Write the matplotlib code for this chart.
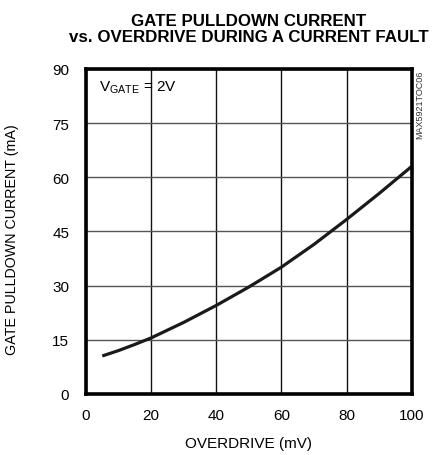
import numpy as np
import matplotlib.pyplot as plt
from matplotlib import font_manager as fm

# datos
overdrive = [5, 10, 15, 20, 30, 40, 50, 60, 70, 80, 90, 100]
corriente = [10.5, 12.0, 13.7, 15.5, 19.8, 24.5, 29.6, 35.1, 41.4, 48.3, 55.5, 63.0]

x_ticks = [0, 20, 40, 60, 80, 100]
y_ticks = [0, 15, 30, 45, 60, 75, 90]

# buscar una fuente estrecha si existe
nombres = {f.name for f in fm.fontManager.ttflist}
if 'Liberation Sans Narrow' in nombres:
    fuente, tam, tam_y, tam_tit = 'Liberation Sans Narrow', 12.5, 12.5, 14
else:
    fuente, tam, tam_y, tam_tit = 'Liberation Sans', 11, 10.3, 12.2

plt.rcParams['font.family'] = [fuente, 'DejaVu Sans']
plt.rcParams['mathtext.fontset'] = 'custom'
plt.rcParams['mathtext.rm'] = fuente
plt.rcParams['mathtext.it'] = fuente

fig = plt.figure(figsize=(4.32, 4.56), dpi=100)
ax = fig.add_axes([0.199, 0.134, 0.754, 0.7127])

ax.plot(overdrive, corriente, color='#1a1a1a', linewidth=2.3, solid_capstyle='butt')

ax.set_xlim(0, 100)
ax.set_ylim(0, 90)
ax.set_xticks(x_ticks)
ax.set_yticks(y_ticks)
ax.tick_params(length=0, labelsize=tam)
ax.tick_params(axis='x', pad=10)
ax.tick_params(axis='y', pad=12)
ax.xaxis.grid(True, color='#111111', linewidth=1.0)
ax.yaxis.grid(True, color='#555555', linewidth=1.0)
for s in ax.spines.values():
    s.set_linewidth(2.6)

ax.set_xlabel('OVERDRIVE (mV)', fontsize=tam)
ax.set_ylabel('GATE PULLDOWN CURRENT (mA)', fontsize=tam_y)
ax.xaxis.set_label_coords(0.5, -0.13)
ax.yaxis.set_label_coords(-0.205, 0.477)

fig.text(0.575, 0.936, 'GATE PULLDOWN CURRENT\nvs. OVERDRIVE DURING A CURRENT FAULT',
         ha='center', va='center', fontsize=tam_tit, fontweight='bold', linespacing=1.1)

ax.text(4.1, 85, r'V$_{\mathrm{GATE}}$ = 2V', fontsize=tam, va='center')
fig.text(0.972, 0.846, 'MAX5921TOC06', rotation=90, fontsize=6.5, ha='center', va='top',
         color='#333333')

fig.savefig('out.png', dpi=100)
